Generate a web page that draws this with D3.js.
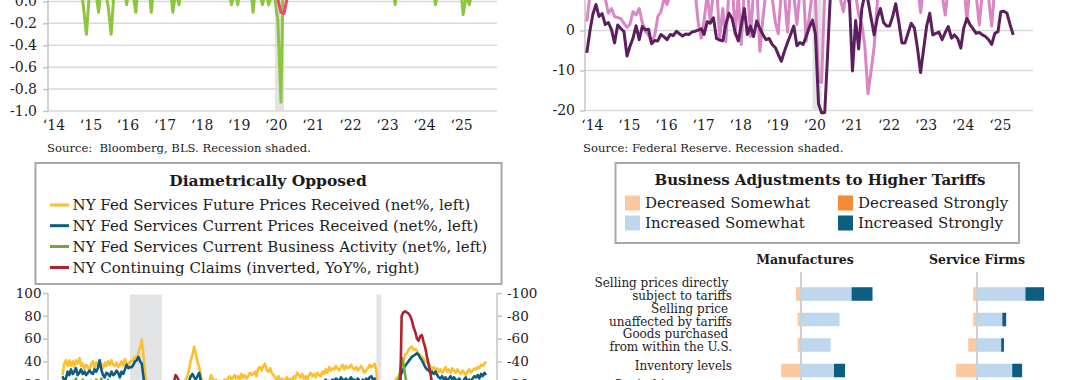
<!DOCTYPE html>
<html>
<head>
<meta charset="utf-8">
<script src="https://cdn.jsdelivr.net/npm/d3@7"></script>
<style>
  html, body { margin:0; padding:0; background:#ffffff; }
  svg { display:block; }
  text { white-space: pre; }
</style>
</head>
<body>
<svg id="chart" width="1080" height="380" font-family="DejaVu Serif, serif"></svg>
<script>
// ================= DATA =================
// --- Top-left panel (Bloomberg, BLS) ---
const tlYears = [2014,2015,2016,2017,2018,2019,2020,2021,2022,2023,2024,2025];
const tlYearLabels = ["‘14","‘15","‘16","‘17","‘18","‘19","‘20","‘21","‘22","‘23","‘24","‘25"];
const tlYTicks = [-1.0,-0.8,-0.6,-0.4,-0.2,0.0];
const tlSource = "Source:  Bloomberg, BLS. Recession shaded.";
const tlGreen = [ // monthly from Jan 2014
 0.2,0.3,0.1,0.3,0.2,0.1,0.2,0.3,0.2,0.1,0.2,-0.04,
 -0.3,0.1,0.2,0.1,-0.1,0.2,0.1,-0.03,-0.3,0.1,0.2,0.3,
 0.2,-0.03,0.2,0.1,-0.1,0.2,0.3,0.1,0.2,-0.1,0.2,0.1,
 0.3,0.2,0.1,0.2,-0.1,0.1,-0.03,0.2,0.3,0.2,0.1,0.2,
 0.3,0.2,0.3,0.1,0.2,0.3,0.2,0.1,0.3,0.2,0.1,-0.03,
 0.1,-0.03,0.2,0.3,0.1,0.2,-0.1,0.2,0.1,-0.03,0.1,-0.03,
 0.05,0.02,-0.17,-0.92,0.6,0.4,0.3,0.2,0.3,0.2,0.4,0.3,
 0.3,0.4,0.2,0.5,0.3,0.4,0.2,0.3,0.4,0.2,0.3,0.4,
 0.3,0.2,0.4,0.3,0.2,0.3,0.4,0.2,0.3,0.2,0.3,0.2,
 0.3,0.2,0.1,0.2,-0.03,0.2,0.3,0.1,0.2,0.3,0.2,0.1,
 0.2,0.3,0.1,0.2,0.3,-0.03,0.1,0.2,0.3,0.2,0.1,0.2,
 0.1,0.2,-0.12,0.05,-0.03,0.1
];
const tlRed = [ // monthly from Jan 2014
 0.4,0.3,0.5,0.4,0.3,0.4,0.5,0.3,0.4,0.3,0.4,0.5,
 0.3,0.4,0.3,0.5,0.4,0.3,0.4,0.3,0.5,0.4,0.3,0.4,
 0.4,0.3,0.4,0.5,0.3,0.4,0.3,0.4,0.5,0.3,0.4,0.3,
 0.5,0.4,0.3,0.4,0.3,0.5,0.4,0.3,0.4,0.4,0.3,0.5,
 0.4,0.3,0.5,0.4,0.3,0.4,0.5,0.4,0.3,0.4,0.3,0.4,
 0.3,0.4,0.3,0.4,0.5,0.3,0.4,0.3,0.4,0.3,0.4,0.3,
 0.3,0.2,0.02,-0.1,-0.11,0.03,0.4,0.5,0.4,0.3,0.4,0.5,
 0.5,0.4,0.6,0.5,0.7,0.6,0.5,0.4,0.5,0.6,0.5,0.4,
 0.5,0.6,0.5,0.4,0.5,0.4,0.3,0.4,0.5,0.4,0.3,0.4,
 0.4,0.3,0.4,0.5,0.3,0.4,0.3,0.4,0.3,0.4,0.3,0.4,
 0.3,0.4,0.3,0.4,0.3,0.3,0.4,0.3,0.4,0.3,0.4,0.3,
 0.3,0.4,0.3,0.3,0.4,0.3
];

// --- Top-right panel (Federal Reserve) ---
const trYears = tlYears;
const trYearLabels = tlYearLabels;
const trYTicks = [-20,-10,0];
const trSource = "Source: Federal Reserve. Recession shaded.";
const trPurple = [ // monthly from Jan 2014
 -5.6,0,4,6.5,3.5,4.2,1.5,2,0.2,-3.1,1.4,0.5,
 -0.2,-6.4,-4,-1.9,1.2,-2.3,1.0,0.2,0.3,-3.3,-2.5,-2.6,
 -1.0,-1.6,-2.3,-1.0,-1.3,-0.2,-0.8,-1.4,-0.9,-1.0,-0.4,-0.2,
 0.1,0.4,-1.0,2.2,1.8,3.2,-2.0,-2.4,-2.6,1.5,4.3,3.0,
 -0.5,-2.6,1.2,5.5,-1.0,1.1,-1.5,2.4,0.5,-1.0,-2.3,-2.0,
 -3.5,-4.3,-6.0,-7.7,-5.2,-3.0,-1.0,1.1,-3.8,-3.0,-3.5,-1.5,
 0.8,2.6,-0.8,-18.3,-20.6,-20.5,-5,12,15,10,14,9,
 11,6.5,-10.1,2.5,-4.6,5.5,9,7.5,3,-1.1,3.2,5.5,
 2,1.1,1.1,3.5,6.7,2,-3.1,-3.1,-0.5,1.8,0.6,-4.4,
 -10.5,-4.4,1.0,4.3,-1.1,-0.7,-0.4,-2.3,-0.5,1.0,-1.9,-1.1,
 -2.0,-4.4,0.6,3.0,1.5,0.4,-0.7,-0.5,-1.1,-1.5,-2.3,-3.5,
 -0.7,-0.3,4.7,4.8,4.3,1.4,-1.1
];
const trPink = [ // monthly from Jan 2014
 2.2,9,12,10,13,11,8,4.3,5.5,3.5,3.2,3.0,
 1.8,0.8,1.5,4.7,3.9,5.5,2.0,-0.2,-1.2,-3.0,-1.2,3.5,
 4.7,8,6.5,9,12,10,14,11,13,9,12,10,
 2.2,-1.9,2.5,9,2.2,10,12,-2.0,5.5,-2.8,10,13,
 -1.1,9,-3.5,10,12,-1.5,10,11,-5.2,3,10,12,
 8,2,-0.8,10,9,-0.4,11,9,1.5,10,12,-2.7,
 3.5,10,8,-12.6,-13.0,10,14,12,9,13,8,4.7,
 10,6.5,12,9,4,1.5,-4,-15.8,-10,-4,7,13,
 9,13,10,12,10,12,9,13,8,11,9,12,
 4.5,11,13,9,12,10,14,9,3.9,11,13,9,
 11,8,12,2.6,11,13,9,1.4,10,12,8,1.1,
 11,14,10
];

// --- Bottom-left panel: Diametrically Opposed ---
const blTitle = "Diametrically Opposed";
const blLegend = [
  "NY Fed Services Future Prices Received (net%, left)",
  "NY Fed Services Current Prices Received (net%, left)",
  "NY Fed Services Current Business Activity (net%, left)",
  "NY Continuing Claims (inverted, YoY%, right)"
];
const blLeftTicks = [0,20,40,60,80,100];
const blRightTicks = [-100,-80,-60,-40,-20,0];
const blFuturePrices = [ // monthly from Aug 2004
 28,38,41,36,41,
 36,40,35,41,38,43,36,38,33,37,35,32,
 38,40,34,39,36,41,37,34,39,36,40,37,
 41,37,36,39,35,37,40,36,42,38,37,40,
 40,42,44,41,48,52,59,45,30,16,9,5,
 3,1,4,6,9,11,13,15,16,18,17,19,
 18,20,19,21,20,18,21,22,24,27,33,41,
 46,53,47,40,35,28,21,18,16,19,22,28,
 25,22,24,20,23,19,21,24,22,25,27,24,
 26,28,25,27,24,29,26,28,25,27,30,28,
 29,31,27,34,35,32,36,38,33,31,34,30,
 28,26,24,27,23,25,21,24,26,22,25,23,
 27,25,30,28,26,29,25,27,24,28,30,27,
 29,26,30,28,27,31,29,33,30,35,32,34,
 33,36,34,32,35,37,33,36,34,35,37,34,
 33,35,32,34,36,33,30,32,34,37,35,36,
 38,31,8,-25,-12,-2,4,9,12,16,18,21,
 23,25,27,30,36,40,46,47,50,52,53,50,
 51,49,47,45,44,42,40,39,38,35,33,35,
 32,34,31,33,30,32,35,31,33,30,34,32,
 30,33,31,29,32,30,28,31,33,30,32,34,
 33,35,34,37,36,38,40
];
const blCurrentPrices = [ // monthly from Aug 2004
 27,23,25,31,28,
 33,29,31,34,28,30,33,29,31,28,30,32,
 30,29,33,31,34,41,33,28,26,30,29,27,
 31,28,29,32,30,26,31,29,33,37,34,35,
 35,37,40,41,44,40,38,26,16,8,2,-3,
 -6,-8,-5,-2,0,3,5,4,7,8,9,11,
 10,12,11,13,14,12,15,16,18,20,23,27,
 29,26,24,27,30,23,19,16,15,17,16,18,
 17,16,18,15,14,16,13,15,17,14,16,15,
 14,16,15,17,13,15,16,14,17,15,16,18,
 17,19,18,20,19,21,18,20,19,17,18,16,
 15,14,16,13,15,14,12,15,13,14,12,13,
 14,13,15,12,16,14,15,13,16,17,15,18,
 17,19,18,20,21,19,22,24,21,23,22,24,
 23,25,24,22,26,24,23,25,22,24,26,23,
 24,22,25,23,21,24,22,25,23,26,27,24,
 25,18,4,-18,-10,-4,2,6,9,12,14,17,
 19,21,23,26,30,33,36,38,40,42,44,45,
 46,47,46,43,41,38,35,33,32,30,31,29,
 31,28,26,25,27,24,26,23,25,27,24,26,
 24,22,25,23,21,24,26,22,24,23,25,27,
 26,28,25,29,27,30,28
];
const blBusinessActivity = [ // monthly from Aug 2004
 18,22,20,17,21,
 19,23,21,25,20,22,18,24,21,19,22,20,
 23,21,19,24,22,20,25,21,18,22,24,19,
 21,18,22,20,17,23,19,21,15,12,10,8,
 5,0,-5,-10,-15,-20,-25,-30,-35,-40,-45,-48,
 -45,-40,-35,-30,-25,-20,-15,-12,-10,-8,-6,-5,
 -3,0,2,5,3,6,4,8,6,9,10,12,
 14,12,10,8,6,5,3,2,4,0,3,5,
 6,8,7,5,4,3,2,0,-2,-4,-10,-8,
 -5,-3,0,2,4,3,6,5,8,7,10,9,
 8,6,10,12,14,11,13,15,12,10,13,14,
 12,10,9,11,8,10,9,7,6,8,5,7,
 4,6,5,8,7,9,6,8,10,12,14,16,
 15,18,16,14,17,19,16,18,20,17,19,18,
 17,19,16,18,20,17,19,16,18,20,15,14,
 12,14,10,13,11,9,12,10,8,11,9,10,
 8,2,-40,-70,-60,-45,-35,-30,-25,-20,-18,-15,
 -10,-5,5,30,43,38,29,20,15,12,10,14,
 15,12,16,19,22,18,14,10,8,5,2,0,
 -2,-5,-3,0,-4,-2,1,-3,-6,-2,0,-3,
 -5,-2,0,-3,-1,2,0,-2,1,3,5,2,
 0,-5,-12,-15,-10,-8,-6
];
const blClaimsYoY = [ // monthly from Jan 2005
 -5,-8,-6,-10,-7,-9,-12,-8,-6,-10,-11,-9,
 -8,-6,-10,-7,-5,-8,-4,-6,-3,-5,-2,-4,
 -3,0,-2,1,3,0,2,5,4,6,8,10,
 12,15,18,20,25,28,30,35,40,45,50,55,
 60,65,70,68,65,62,58,50,40,30,20,10,
 -15,-22,-28,-26,-23,-18,-14,-12,-14,-10,-8,-11,
 -10,-8,-12,-9,-7,-10,-8,-6,-9,-11,-8,-7,
 -6,-8,-5,-9,-7,-4,-6,-8,-5,-3,-6,-4,
 -5,-7,-4,-8,-6,-9,-7,-5,-8,-10,-6,-7,
 -9,-11,-8,-10,-12,-9,-11,-13,-10,-8,-12,-9,
 -8,-10,-7,-9,-6,-8,-10,-7,-5,-8,-6,-4,
 -3,-5,-2,-4,-1,-3,0,-2,-4,-1,-3,-2,
 -4,-2,-5,-3,-6,-4,-2,-5,-3,-1,-4,-6,
 -5,-7,-4,-6,-8,-5,-3,-6,-4,-7,-5,-3,
 -2,-4,-1,-3,0,-2,1,-1,-3,0,2,-1,
 0,2,30,200,300,250,220,180,150,130,120,110,
 100,80,40,0,-80,-83,-84,-83,-82,-80,-76,-70,
 -66,-60,-58,-62,-63,-57,-52,-44,-37,-30,-20,-12,
 -5,0,3,5,8,6,10,12,9,11,8,10,
 7,5,8,4,6,3,5,2,4,6,3,5,
 4,2,5,3,6,4
];

// --- Bottom-right panel: Business Adjustments to Higher Tariffs ---
const brTitle = "Business Adjustments to Higher Tariffs";
const brLegend = ["Decreased Somewhat","Decreased Strongly","Increased Somewhat","Increased Strongly"];
const brPanels = ["Manufactures","Service Firms"];
const brCategories = ["Selling prices directly subject to tariffs","Selling price unaffected by tariffs",
  "Goods purchased from within the U.S.","Inventory levels","Capital investment plans"];
const brCategoryLines = [["Selling prices directly ","subject to tariffs"],["Selling price ","unaffected by tariffs"],
  ["Goods purchased ","from within the U.S."],["Inventory levels"],["Capital investment ","plans"]];
const mfgDecSomewhat = [4.5,3,3,18,12];
const mfgDecStrongly = [0,0,0,0,2];
const mfgIncSomewhat = [46,35,27,30,22];
const mfgIncStrongly = [19,0,0,10,4];
const svcDecSomewhat = [3.5,3.5,8,19,14];
const svcDecStrongly = [0,0,0,0,2];
const svcIncSomewhat = [44,23,22,32,18];
const svcIncStrongly = [17,3.5,2.5,9,3];

// ================= DRAWING =================
const svg = d3.select("#chart");
const C = { text:"#1e1b1c", grid:"#d9d9d9", axis:"#c4c4c4", rec:"#e2e3e5", box:"#a8a8a8" };
function monthly(y, m, vals){ return vals.map((v,i)=>({date:new Date(y, m-1+i, 1), value:v})); }
function styleAxis(g, size){
  g.attr("font-family", null).attr("font-size", null);
  g.select(".domain").remove();
  g.selectAll(".tick line").attr("stroke", C.axis).attr("stroke-width", 1.5);
  g.selectAll(".tick text").attr("fill", C.text).attr("font-size", size);
}
function addText(g, x, y, str, size, opts={}){
  return g.append("text").attr("x", x).attr("y", y).attr("dy","0.35em")
    .attr("font-size", size).attr("fill", C.text)
    .attr("text-anchor", opts.anchor || "start")
    .attr("font-weight", opts.bold ? "bold" : null)
    .attr("xml:space","preserve").text(str);
}

// ---------- Top-left ----------
{
  const x = d3.scaleTime().domain([new Date(2013,11,18), new Date(2026,0,29)]).range([48,497]);
  const y = d3.scaleLinear().domain([-1,0]).range([111,1.4]);
  const g = svg.append("g");
  g.append("rect").attr("x", x(new Date(2020,1,1))).attr("y", y(0.6))
    .attr("width", x(new Date(2020,4,1)) - x(new Date(2020,1,1))).attr("height", y(-1) - y(0.6)).attr("fill", C.rec);
  g.selectAll("line.grid").data(tlYTicks).join("line").attr("class","grid")
    .attr("x1",48).attr("x2",497).attr("y1",d=>y(d)).attr("y2",d=>y(d))
    .attr("stroke",C.grid).attr("stroke-width",1.5);
  g.append("line").attr("x1",48).attr("x2",48).attr("y1",y(0.6)).attr("y2",y(-1)).attr("stroke",C.axis).attr("stroke-width",1.5);
  g.append("g").attr("transform","translate(48,0)")
    .call(d3.axisLeft(y).tickValues(tlYTicks).tickSize(5).tickPadding(6).tickFormat(d=>d.toFixed(1)))
    .call(styleAxis, 14);
  g.append("g").attr("transform","translate(0,111)")
    .call(d3.axisBottom(x).tickValues(tlYears.map(yr=>new Date(yr,0,1))).tickSize(0).tickPadding(9).tickFormat((d,i)=>tlYearLabels[i]))
    .call(styleAxis, 14)
    .selectAll("text").attr("dx", 4);
  const line = d3.line().x(d=>x(d.date)).y(d=>y(d.value));
  g.append("path").datum(monthly(2014,1,tlGreen)).attr("d",line)
    .attr("fill","none").attr("stroke","#8cc63f").attr("stroke-width",3).attr("stroke-linejoin","round");
  g.append("path").datum(monthly(2014,1,tlRed)).attr("d",line)
    .attr("fill","none").attr("stroke","#ee4670").attr("stroke-width",3).attr("stroke-linejoin","round");
  addText(g, 47, 148.3, tlSource, 11.6);
}

// ---------- Top-right ----------
{
  const x = d3.scaleTime().domain([new Date(2013,11,14), new Date(2026,0,12)]).range([585,1033]);
  const y = d3.scaleLinear().domain([-20,0]).range([110.5,30.5]);
  const g = svg.append("g");
  g.append("rect").attr("x", x(new Date(2020,1,1))).attr("y", 0)
    .attr("width", x(new Date(2020,4,1)) - x(new Date(2020,1,1))).attr("height", y(-20)).attr("fill", C.rec);
  g.selectAll("line.grid").data(trYTicks).join("line").attr("class","grid")
    .attr("x1",585).attr("x2",1033).attr("y1",d=>y(d)).attr("y2",d=>y(d))
    .attr("stroke",C.grid).attr("stroke-width",1.5);
  g.append("line").attr("x1",585).attr("x2",585).attr("y1",0).attr("y2",y(-20)).attr("stroke",C.axis).attr("stroke-width",1.5);
  g.append("g").attr("transform","translate(585,0)")
    .call(d3.axisLeft(y).tickValues(trYTicks).tickSize(5).tickPadding(5).tickFormat(d=>String(d)))
    .call(styleAxis, 14);
  g.append("g").attr("transform","translate(0,111)")
    .call(d3.axisBottom(x).tickValues(trYears.map(yr=>new Date(yr,0,1))).tickSize(0).tickPadding(9).tickFormat((d,i)=>trYearLabels[i]))
    .call(styleAxis, 14)
    .selectAll("text").attr("dx", 5);
  const line = d3.line().x(d=>x(d.date)).y(d=>y(d.value));
  g.append("path").datum(monthly(2014,1,trPink)).attr("d",line)
    .attr("fill","none").attr("stroke","#d886c4").attr("stroke-width",3).attr("stroke-linejoin","round");
  g.append("path").datum(monthly(2014,1,trPurple)).attr("d",line)
    .attr("fill","none").attr("stroke","#5c1f5e").attr("stroke-width",3).attr("stroke-linejoin","round");
  addText(g, 583, 148.3, trSource, 11.6);
}

// ---------- Bottom-left ----------
{
  const g = svg.append("g");
  const colors = ["#fcbf2e","#0c5e80","#6ca843","#b3202f"];
  g.append("rect").attr("x",35.5).attr("y",163).attr("width",466).attr("height",121)
    .attr("fill","#fff").attr("stroke",C.box).attr("stroke-width",2);
  addText(g, 268, 181, blTitle, 15.5, {anchor:"middle", bold:true});
  const rowsY = [205, 225.7, 246.5, 267.5];
  blLegend.forEach((s,i)=>{
    g.append("line").attr("x1",50).attr("x2",69).attr("y1",rowsY[i]).attr("y2",rowsY[i])
      .attr("stroke",colors[i]).attr("stroke-width",3);
    addText(g, 72.5, rowsY[i], s, 15);
  });
  const x = d3.scaleTime().domain([new Date(2003,10,13), new Date(2026,0,15)]).range([48,497]);
  const yL = d3.scaleLinear().domain([0,100]).range([407,293]);
  const yR = d3.scaleLinear().domain([0,-100]).range([407,293]);
  [[new Date(2007,11,1), new Date(2009,5,30)], [new Date(2020,1,1), new Date(2020,3,30)]].forEach(r=>{
    g.append("rect").attr("x",x(r[0])).attr("width",x(r[1])-x(r[0])).attr("y",294.5).attr("height",100).attr("fill",C.rec);
  });
  g.append("line").attr("x1",48).attr("x2",48).attr("y1",yL(100)).attr("y2",yL(-20)).attr("stroke",C.axis).attr("stroke-width",1.5);
  g.append("line").attr("x1",497).attr("x2",497).attr("y1",yL(100)).attr("y2",yL(-20)).attr("stroke",C.axis).attr("stroke-width",1.5);
  g.append("g").attr("transform","translate(48,0)")
    .call(d3.axisLeft(yL).tickValues(blLeftTicks).tickSize(5).tickPadding(1.5).tickFormat(d=>String(d)))
    .call(styleAxis, 13.5);
  g.append("g").attr("transform","translate(497,0)")
    .call(d3.axisRight(yR).tickValues(blRightTicks).tickSize(5).tickPadding(5).tickFormat(d=>String(d)))
    .call(styleAxis, 13.5);
  const lineL = d3.line().x(d=>x(d.date)).y(d=>yL(d.value));
  const lineR = d3.line().x(d=>x(d.date)).y(d=>yR(d.value));
  [[blFuturePrices,0],[blCurrentPrices,1],[blBusinessActivity,2]].forEach(([arr,i])=>{
    g.append("path").datum(monthly(2004,8,arr)).attr("d",lineL)
      .attr("fill","none").attr("stroke",colors[i]).attr("stroke-width",2.6).attr("stroke-linejoin","round");
  });
  g.append("path").datum(monthly(2005,1,blClaimsYoY)).attr("d",lineR)
    .attr("fill","none").attr("stroke",colors[3]).attr("stroke-width",2.6).attr("stroke-linejoin","round");
}

// ---------- Bottom-right ----------
{
  const g = svg.append("g");
  const colors = ["#fbc8a0","#f58b35","#bed6ee","#0c5e80"];
  g.append("rect").attr("x",615.5).attr("y",163).attr("width",403.5).attr("height",80)
    .attr("fill","#fff").attr("stroke",C.box).attr("stroke-width",2);
  addText(g, 820, 180, brTitle, 15, {anchor:"middle", bold:true});
  const lx = [625, 838], ly = [203, 223];
  brLegend.forEach((s,i)=>{
    const col = i % 2, row = Math.floor(i/2);
    g.append("rect").attr("x",lx[col]).attr("y",ly[row]-7.5).attr("width",15).attr("height",15).attr("fill",colors[i]);
    addText(g, lx[col]+20, ly[row], s, 15);
  });
  const y = d3.scaleBand().domain(brCategories).range([281.25, 408.75]).paddingInner(0.47).paddingOuter(0.235);
  const panels = [
    {name:brPanels[0], zero:801, ds:mfgDecSomewhat, dst:mfgDecStrongly, is:mfgIncSomewhat, ist:mfgIncStrongly, hx:805},
    {name:brPanels[1], zero:977, ds:svcDecSomewhat, dst:svcDecStrongly, is:svcIncSomewhat, ist:svcIncStrongly, hx:977}
  ];
  panels.forEach(p=>{
    const x = d3.scaleLinear().domain([0,10]).range([p.zero, p.zero+11]);
    addText(g, p.hx, 260, p.name, 12.5, {anchor:"middle", bold:true});
    brCategories.forEach((c,i)=>{
      const y0 = y(c), h = y.bandwidth();
      const segs = [
        [-p.ds[i], 0, colors[0]],
        [-p.ds[i]-p.dst[i], -p.ds[i], colors[1]],
        [0, p.is[i], colors[2]],
        [p.is[i], p.is[i]+p.ist[i], colors[3]]
      ];
      segs.forEach(([a,b,col])=>{
        if (b - a <= 0) return;
        g.append("rect").attr("x",x(a)).attr("width",x(b)-x(a)).attr("y",y0).attr("height",h).attr("fill",col);
      });
    });
    g.append("line").attr("x1",p.zero).attr("x2",p.zero).attr("y1",272).attr("y2",410)
      .attr("stroke","#d0d0d0").attr("stroke-width",2);
  });
  brCategories.forEach((c,i)=>{
    const cy = y(c) + y.bandwidth()/2;
    const lines = brCategoryLines[i];
    lines.forEach((s,j)=>{
      addText(g, 732, cy - 4.5 + (j - (lines.length-1)/2)*13, s, 12, {anchor:"end"});
    });
  });
}
</script>
</body>
</html>
